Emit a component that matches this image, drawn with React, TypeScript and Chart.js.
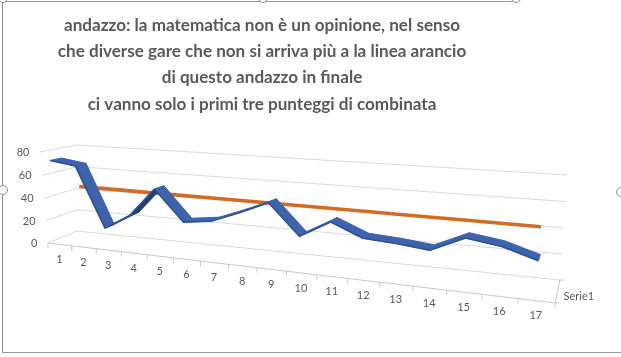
import React, { useEffect, useRef } from "react";
import { Chart, registerables } from "chart.js";

Chart.register(...registerables);

// ---------------- data ----------------
const titleLines = [
  "andazzo: la matematica non è un opinione, nel senso",
  "che diverse gare che non si arriva più a la linea arancio",
  "di questo andazzo in finale",
  "ci vanno solo i primi tre punteggi di combinata",
];
const categories = ["1", "2", "3", "4", "5", "6", "7", "8", "9", "10", "11", "12", "13", "14", "15", "16", "17"];
const serie1Values = [74, 71, 20, 33, 57, 32, 35, 44, 54, 30, 43.5, 33.5, 32, 29.5, 41, 37.5, 30];
const lineaArancio = [null, 53, 53, 53, 53, 53, 53, 53, 53, 53, 53, 53, 53, 53, 53, 53, 53];
const yTicks = [0, 20, 40, 60, 80];
const seriesName = "Serie1";

// ---------------- 3D box geometry (screen corners of the perspective box) ----------------
type Pt = [number, number];
// corners for (u,v) = (0,0), (1,0), (1,1), (0,1)
const FRONT_QUAD: Pt[] = [[48, 243], [555, 303], [563, 189], [40, 152]];
const BACK_QUAD: Pt[] = [[77, 231], [560, 280], [567, 175], [77, 145]];
// per dataset: [front depth, back depth] of its ribbon
const DEPTHS: [number, number][] = [[-0.07, 0.24], [0, 0]];

const TEXT_COLOR = "#595959";
const GRID_COLOR = "#D9D9D9";
const AXIS_COLOR = "#C8C8C8";
const RIBBON_TOP = "#3D63AD";
const RIBBON_UNDER = "#223F73";
const LABEL_FONT = "11px Lato";

function squareToQuad(q: Pt[]) {
  const [[x0, y0], [x1, y1], [x2, y2], [x3, y3]] = q;
  const dx1 = x1 - x2, dx2 = x3 - x2, dx3 = x0 - x1 + x2 - x3;
  const dy1 = y1 - y2, dy2 = y3 - y2, dy3 = y0 - y1 + y2 - y3;
  const den = dx1 * dy2 - dx2 * dy1;
  const g = (dx3 * dy2 - dx2 * dy3) / den;
  const h = (dx1 * dy3 - dx3 * dy1) / den;
  const a = x1 - x0 + g * x1, b = x3 - x0 + h * x3, c = x0;
  const d = y1 - y0 + g * y1, e = y3 - y0 + h * y3, f = y0;
  return (u: number, v: number): Pt => {
    const w = g * u + h * v + 1;
    return [(a * u + b * v + c) / w, (d * u + e * v + f) / w];
  };
}
const frontMap = squareToQuad(FRONT_QUAD);
const backMap = squareToQuad(BACK_QUAD);
function project(u: number, v: number, z: number): Pt {
  const f = frontMap(u, v);
  const b = backMap(u, v);
  return [f[0] + (b[0] - f[0]) * z, f[1] + (b[1] - f[1]) * z];
}

const box3d = {
  id: "box3d",
  afterDatasetsUpdate(chart: any) {
    const area = chart.chartArea;
    const W = area.right - area.left;
    const H = area.bottom - area.top;
    chart.data.datasets.forEach((_ds: any, i: number) => {
      const meta = chart.getDatasetMeta(i);
      const [zf, zb] = DEPTHS[i] || [0, 0];
      meta.data.forEach((el: any) => {
        if (!isFinite(el.x) || !isFinite(el.y)) return;
        const u = (el.x - area.left) / W;
        const v = (area.bottom - el.y) / H;
        const p = project(u, v, zf);
        const q = project(u, v, zb);
        el.x = p[0];
        el.y = p[1];
        el.$back = q;
      });
    });
  },
  beforeDatasetsDraw(chart: any) {
    const { ctx, chartArea: area } = chart;
    const xs = chart.scales.x;
    const ys = chart.scales.y;
    const W = area.right - area.left;
    const H = area.bottom - area.top;
    const uOf = (px: number) => (px - area.left) / W;
    const vOf = (py: number) => (area.bottom - py) / H;
    const seg = (a: Pt, b: Pt) => {
      ctx.beginPath();
      ctx.moveTo(a[0], a[1]);
      ctx.lineTo(b[0], b[1]);
      ctx.stroke();
    };
    ctx.save();
    ctx.lineWidth = 1;
    ctx.strokeStyle = GRID_COLOR;
    ys.ticks.forEach((t: any) => {
      const v = vOf(ys.getPixelForValue(t.value));
      const a = project(0, v, 0), b = project(0, v, 1), c = project(1, v, 1);
      ctx.beginPath();
      ctx.moveTo(a[0], a[1]);
      ctx.lineTo(b[0], b[1]);
      ctx.lineTo(c[0], c[1]);
      ctx.stroke();
    });
    ctx.strokeStyle = AXIS_COLOR;
    const f0 = project(0, 0, 0), f1 = project(1, 0, 0), b1 = project(1, 0, 1);
    seg(f0, f1);
    seg(b1, f1);
    const n = categories.length;
    for (let i = 0; i <= n; i++) {
      const p = project(uOf(xs.getPixelForValue(i - 0.5)), 0, 0);
      seg(p, [p[0], p[1] + 5]);
    }
    seg(b1, [b1[0] + 4, b1[1]]);
    seg(f1, [f1[0] + 4, f1[1]]);

    ctx.fillStyle = TEXT_COLOR;
    ctx.font = LABEL_FONT;
    ctx.textBaseline = "middle";
    ctx.textAlign = "right";
    ys.ticks.forEach((t: any) => {
      const p = project(0, vOf(ys.getPixelForValue(t.value)), 0);
      ctx.fillText(t.label, p[0] - 10.5, p[1] + 0.5);
    });
    ctx.textAlign = "center";
    for (let i = 0; i < n; i++) {
      const p = project(uOf(xs.getPixelForValue(i)), 0, 0);
      ctx.fillText(xs.getLabelForValue(i), p[0] - 0.5, p[1] + 15);
    }
    ctx.textAlign = "left";
    const m = project(1, 0, 0.5);
    ctx.fillText(chart.data.datasets[0].label, m[0] + 6, m[1] + 4.5);
    ctx.restore();
  },
  beforeDatasetDraw(chart: any, args: any) {
    if (args.index !== 0) return;
    const { ctx } = chart;
    const pts = args.meta.data;
    ctx.save();
    ctx.lineJoin = "round";
    for (let i = 0; i < pts.length - 1; i++) {
      const a = pts[i], b = pts[i + 1];
      if (!a.$back || !b.$back) continue;
      const F1: Pt = [a.x, a.y], F2: Pt = [b.x, b.y];
      const B1: Pt = a.$back, B2: Pt = b.$back;
      const cross = (F2[0] - F1[0]) * (B1[1] - F1[1]) - (F2[1] - F1[1]) * (B1[0] - F1[0]);
      const col = cross > 0 ? RIBBON_UNDER : RIBBON_TOP;
      ctx.fillStyle = col;
      ctx.strokeStyle = col;
      ctx.lineWidth = 1;
      ctx.beginPath();
      ctx.moveTo(F1[0], F1[1]);
      ctx.lineTo(F2[0], F2[1]);
      ctx.lineTo(B2[0], B2[1]);
      ctx.lineTo(B1[0], B1[1]);
      ctx.closePath();
      ctx.fill();
      ctx.stroke();
    }
    ctx.restore();
  },
};

function titleFontSize(): number {
  const c = document.createElement("canvas").getContext("2d");
  if (!c) return 17;
  c.font = "bold 20px Lato";
  const w = c.measureText(titleLines[0]).width;
  return Math.min(20, (20 * 396) / w);
}

const handle = (x: number, y: number): React.CSSProperties => ({
  position: "absolute",
  left: x - 5,
  top: y - 5,
  width: 8,
  height: 8,
  borderRadius: "50%",
  border: "1px solid #8C8C8C",
  background: "#fff",
});

export default function App() {
  const ref = useRef<HTMLCanvasElement>(null);
  useEffect(() => {
    document.body.style.margin = "0";
    const size = titleFontSize();
    const chart = new Chart(ref.current as HTMLCanvasElement, {
      type: "line",
      data: {
        labels: categories,
        datasets: [
          {
            label: seriesName,
            data: serie1Values,
            borderColor: "#2E5395",
            borderWidth: 1.6,
            pointRadius: 0,
            clip: false,
            order: 0,
            borderJoinStyle: "round",
          },
          {
            label: "linea arancio",
            data: lineaArancio as any,
            borderColor: "#D46B22",
            borderWidth: 3.6,
            pointRadius: 0,
            clip: false,
            spanGaps: true,
            order: 1,
          },
        ],
      },
      options: {
        responsive: false,
        animation: false,
        layout: { padding: { left: 0, right: 97, top: 0, bottom: 0 } },
        scales: {
          x: { type: "category", display: false, offset: true },
          y: {
            display: false,
            min: yTicks[0],
            max: yTicks[yTicks.length - 1],
            ticks: { stepSize: yTicks[1] - yTicks[0] },
          },
        },
        plugins: {
          legend: { display: false },
          tooltip: { enabled: false },
          title: {
            display: true,
            text: titleLines,
            color: TEXT_COLOR,
            font: { family: "Lato", size, weight: "bold", lineHeight: 26.3 / size },
            padding: { top: 12, bottom: 4 },
          },
        },
      },
      plugins: [box3d as any],
    });
    return () => chart.destroy();
  }, []);
  return (
    <div style={{ position: "relative", width: 621, height: 357, background: "#fff", overflow: "hidden" }}>
      <canvas ref={ref} width={621} height={357} style={{ position: "absolute", left: 0, top: 0 }} />
      <div style={{ position: "absolute", left: 2, top: 0, width: 1, height: 353, background: "#8C8C8C" }} />
      <div style={{ position: "absolute", left: 2, top: 352, width: 619, height: 1, background: "#9A9A9A" }} />
      <div style={{ position: "absolute", left: 2, top: 1, width: 514, height: 1, background: "#9A9A9A" }} />
      <div style={handle(3, -2)} />
      <div style={handle(263, -2)} />
      <div style={handle(516, -2)} />
      <div style={handle(3, 190)} />
      <div style={handle(621, 192)} />
    </div>
  );
}
